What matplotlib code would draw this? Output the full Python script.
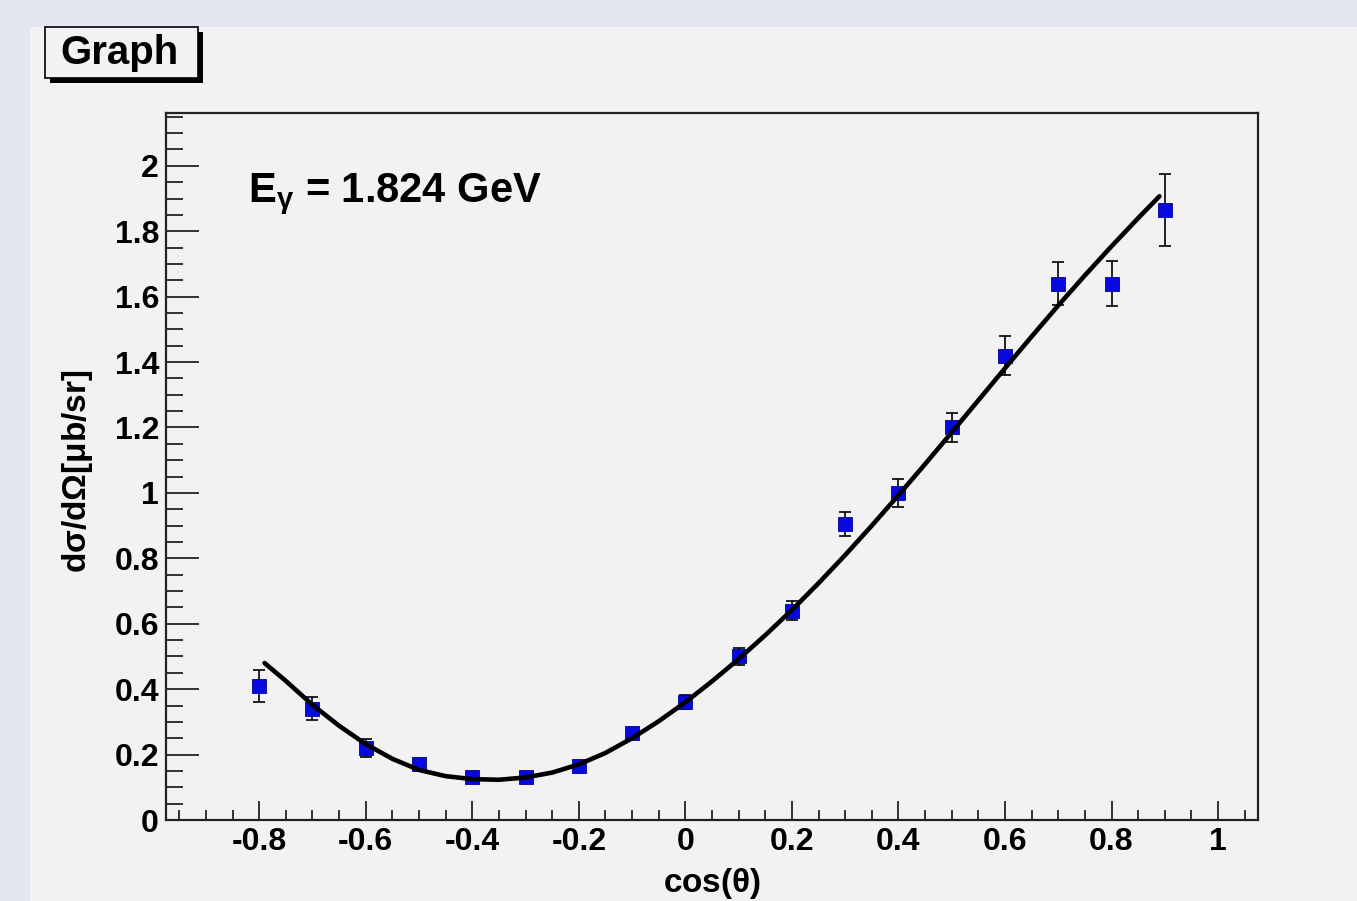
import matplotlib
matplotlib.use("Agg")
import matplotlib.pyplot as plt
from matplotlib.patches import Rectangle

# measured points
cos_theta = [-0.8, -0.7, -0.6, -0.5, -0.4, -0.3, -0.2, -0.1, 0.0,
             0.1, 0.2, 0.3, 0.4, 0.5, 0.6, 0.7, 0.8, 0.9]
xsec = [0.41, 0.34, 0.22, 0.17, 0.13, 0.13, 0.165, 0.265, 0.36,
        0.50, 0.64, 0.905, 1.00, 1.20, 1.42, 1.64, 1.64, 1.865]
xsec_err = [0.048, 0.035, 0.028, 0.015, 0.012, 0.012, 0.014, 0.016, 0.022,
            0.025, 0.030, 0.038, 0.042, 0.045, 0.060, 0.065, 0.070, 0.110]

# fit curve
fit_x = [-0.79, -0.75, -0.7, -0.65, -0.6, -0.55, -0.5, -0.45, -0.4, -0.35,
         -0.3, -0.25, -0.2, -0.15, -0.1, -0.05, 0.0, 0.05, 0.1, 0.15,
         0.2, 0.25, 0.3, 0.35, 0.4, 0.45, 0.5, 0.55, 0.6, 0.65,
         0.7, 0.75, 0.8, 0.85, 0.89]
fit_y = [0.48, 0.425, 0.352, 0.288, 0.232, 0.187, 0.153, 0.134, 0.125, 0.123,
         0.130, 0.145, 0.170, 0.205, 0.250, 0.302, 0.360, 0.424, 0.492, 0.565,
         0.642, 0.724, 0.810, 0.900, 0.993, 1.088, 1.185, 1.283, 1.381, 1.478,
         1.573, 1.665, 1.754, 1.840, 1.907]

xticks = [-0.8, -0.6, -0.4, -0.2, 0.0, 0.2, 0.4, 0.6, 0.8, 1.0]
xticklabels = ["-0.8", "-0.6", "-0.4", "-0.2", "0", "0.2", "0.4", "0.6", "0.8", "1"]
yticks = [0.0, 0.2, 0.4, 0.6, 0.8, 1.0, 1.2, 1.4, 1.6, 1.8, 2.0]
yticklabels = ["0", "0.2", "0.4", "0.6", "0.8", "1", "1.2", "1.4", "1.6", "1.8", "2"]

W, H = 1357, 901
plt.rcParams['font.family'] = ['Liberation Sans', 'DejaVu Sans']
plt.rcParams['mathtext.fontset'] = 'custom'
plt.rcParams['mathtext.rm'] = 'Liberation Sans:bold'
plt.rcParams['mathtext.it'] = 'Liberation Sans:bold'
plt.rcParams['mathtext.bf'] = 'Liberation Sans:bold'

fig = plt.figure(figsize=(W / 100, H / 100), dpi=100, facecolor='#e3e7f0')

# grey pad
fig.patches.append(Rectangle((30 / W, 0), 1 - 30 / W, (H - 27) / H,
                             transform=fig.transFigure, facecolor='#f2f2f2',
                             edgecolor='none', zorder=-10))

# title box with shadow
bx0, bx1, by0, by1 = 45, 198, 27, 78
fig.patches.append(Rectangle(((bx0 + 5) / W, 1 - (by1 + 5) / H), (bx1 - bx0) / W,
                             (by1 - by0) / H, transform=fig.transFigure,
                             facecolor='black', edgecolor='none', zorder=5))
fig.patches.append(Rectangle((bx0 / W, 1 - by1 / H), (bx1 - bx0) / W,
                             (by1 - by0) / H, transform=fig.transFigure,
                             facecolor='#f2f2f2', edgecolor='black', lw=1.2, zorder=6))
fig.text((bx0 + bx1 - 4) / 2 / W, 1 - (by0 + by1 + 2) / 2 / H, "Graph", ha='center',
         va='center', fontsize=29, fontweight='bold', zorder=7)

ax = fig.add_axes([166 / W, (H - 820) / H, (1258 - 166) / W, (820 - 112.5) / H])
ax.set_zorder(1)
ax.set_facecolor('#f2f2f2')

ax.errorbar(cos_theta, xsec, yerr=xsec_err, fmt='none', ecolor='black',
            elinewidth=1.2, capsize=4.5, capthick=1.2, zorder=2)
ax.plot(cos_theta, xsec, 's', color='#0808e0', markeredgecolor='#000090',
        markeredgewidth=0.6, markersize=9.5, zorder=3)
ax.plot(fit_x, fit_y, color='black', lw=3.3, zorder=4,
        solid_capstyle='round', solid_joinstyle='round')

ax.set_xlim(-0.975, 1.075)
ax.set_ylim(0, 2.163)

ax.set_xticks(xticks, xticklabels)
ax.set_yticks(yticks, yticklabels)
ax.set_xticks([-0.95 + 0.05 * i for i in range(41) if i % 4 != 3], minor=True)
ax.set_yticks([0.05 * i for i in range(44) if i % 4 != 0], minor=True)

ax.tick_params(axis='both', which='both', direction='in', width=1.3,
               colors='#222222', labelcolor='black')
ax.tick_params(axis='y', which='major', length=24, labelsize=23, pad=5)
ax.tick_params(axis='y', which='minor', length=12)
ax.tick_params(axis='x', which='major', length=14, labelsize=23, pad=5)
ax.tick_params(axis='x', which='minor', length=7)
for lab in ax.get_xticklabels() + ax.get_yticklabels():
    lab.set_fontweight('bold')

for sp in ax.spines.values():
    sp.set_linewidth(1.6)
    sp.set_color('#222222')

ax.set_xlabel(r"cos($\theta$)", fontsize=24, fontweight='bold')
ax.xaxis.set_label_coords((712 - 166) / (1258 - 166), -(866 - 820) / (820 - 112.5))
ax.set_ylabel(r"d$\sigma$/d$\Omega$[$\mu$b/sr]", fontsize=24, fontweight='bold')
ax.yaxis.set_label_coords(-(166 - 95) / (1258 - 166), (820 - 471) / (820 - 112.5))

ax.text(248, H - 201.7, r"E$_{\gamma}$ = 1.824 GeV", transform=None,
        fontsize=30, fontweight='bold', ha='left', va='baseline')

fig.savefig('out.png', dpi=100, facecolor=fig.get_facecolor())
